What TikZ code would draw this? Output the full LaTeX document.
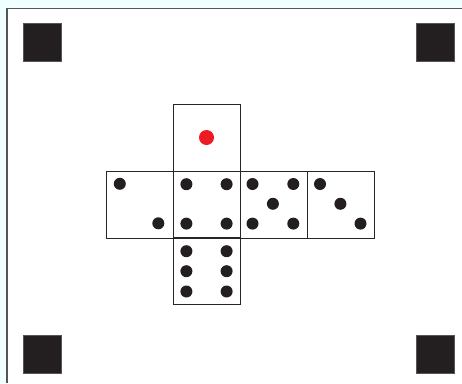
\documentclass[tikz,border=0pt]{standalone}
\usetikzlibrary{calc}
\definecolor{outside}{HTML}{F0FFFF}
\definecolor{frameline}{HTML}{555555}
\definecolor{cornerfill}{HTML}{231F20}
\definecolor{dotblack}{HTML}{231F20}
\definecolor{dotred}{HTML}{ED1C24}
\tikzset{
  face/.style={draw=black!85, line width=0.9pt, minimum size=67pt, inner sep=0pt, outer sep=0pt},
  corner/.style={fill=cornerfill, draw=frameline, line width=0.7pt, minimum size=38pt, inner sep=0pt},
  pip/.style={circle, fill=dotblack, minimum size=12pt, inner sep=0pt},
  redpip/.style={circle, fill=dotred, minimum size=15pt, inner sep=0pt},
}
\begin{document}
\begin{tikzpicture}[x=1pt,y=-1pt]
\useasboundingbox (0,0) rectangle (462,383);
\fill[outside] (0,0) rectangle (462,383);
\fill[white] (6.8,8.6) rectangle (462,383);
\draw[frameline, line width=1.5pt] (6.8,383) -- (6.8,8.6) -- (462,8.6);
% corner squares
\node[corner] (c1) at (42,42) {};
\node[corner] (c2) at (435,42) {};
\node[corner] (c3) at (42,354) {};
\node[corner] (c4) at (435,354) {};
% faces
\node[face] (top) at (206.5,137.5) {};
\node[face] (left) at (139.5,204.5) {};
\node[face] (front) at (206.5,204.5) {};
\node[face] (five) at (273.5,204.5) {};
\node[face] (three) at (340.5,204.5) {};
\node[face] (bottom) at (206.5,271) {};
% pips: one
\node[redpip] (p1) at (top.center) {};
% two
\node[pip] (l1) at ($(left.north west)+(13.8,12.8)$) {};
\node[pip] (l2) at ($(left.north west)+(52.3,52.3)$) {};
% four
\node[pip] (f1) at ($(front.north west)+(13.4,13.2)$) {};
\node[pip] (f2) at ($(front.north west)+(53.6,13.2)$) {};
\node[pip] (f3) at ($(front.north west)+(13.4,52.6)$) {};
\node[pip] (f4) at ($(front.north west)+(53.6,52.6)$) {};
% five
\node[pip] (v1) at ($(five.north west)+(12.5,13)$) {};
\node[pip] (v2) at ($(five.north west)+(53.3,13)$) {};
\node[pip] (v3) at ($(five.north west)+(32.9,32.8)$) {};
\node[pip] (v4) at ($(five.north west)+(12.5,52.6)$) {};
\node[pip] (v5) at ($(five.north west)+(53.3,52.6)$) {};
% three
\node[pip] (t1) at ($(three.north west)+(13,13)$) {};
\node[pip] (t2) at ($(three.north west)+(33.4,32.8)$) {};
\node[pip] (t3) at ($(three.north west)+(53.5,52.6)$) {};
% six
\node[pip] (s1) at ($(bottom.north west)+(13.4,13.7)$) {};
\node[pip] (s2) at ($(bottom.north west)+(13.4,33.7)$) {};
\node[pip] (s3) at ($(bottom.north west)+(13.4,54)$) {};
\node[pip] (s4) at ($(bottom.north west)+(53.6,13.7)$) {};
\node[pip] (s5) at ($(bottom.north west)+(53.6,33.7)$) {};
\node[pip] (s6) at ($(bottom.north west)+(53.6,54)$) {};
\end{tikzpicture}
\end{document}
